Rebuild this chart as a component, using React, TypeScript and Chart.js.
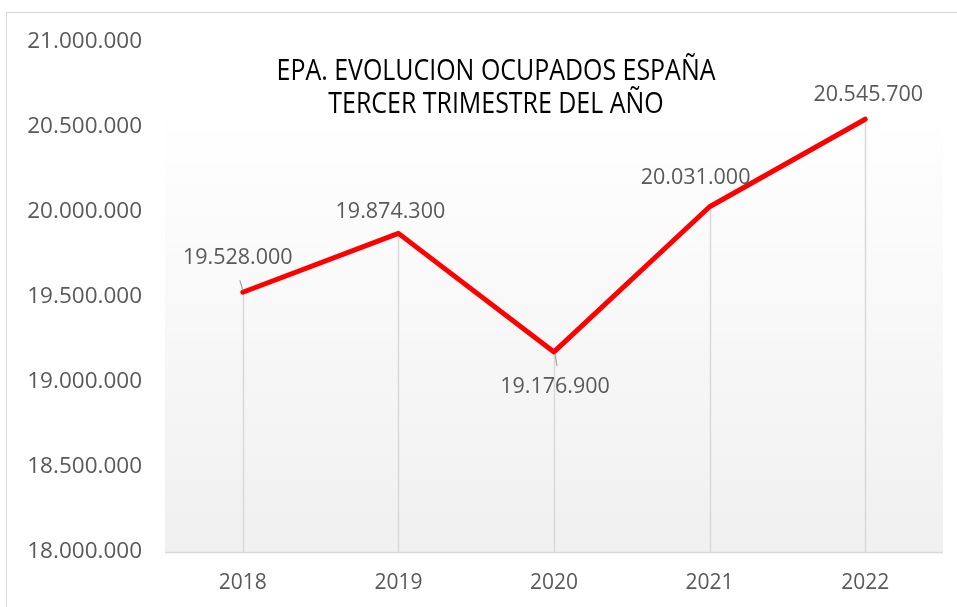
import React, { useEffect, useRef } from "react";
import { Chart, registerables } from "chart.js";

Chart.register(...registerables);

const years = ["2018", "2019", "2020", "2021", "2022"];
const ocupados = [19528000, 19874300, 19176900, 20031000, 20545700];
const titleLines = ["EPA. EVOLUCION OCUPADOS ESPAÑA", "TERCER TRIMESTRE DEL AÑO"];
// label offsets relative to point (style only)
const labelOffsets = [
  [-5, -34, true],
  [-8, -21, false],
  [1, 35, true],
  [-14, -29, false],
  [3, -24, false],
];

const fmt = (v: number) => String(Math.round(v)).replace(/\B(?=(\d{3})+(?!\d))/g, ".");
const FONT = "'Open Sans', sans-serif";

export default function App() {
  const ref = useRef<HTMLCanvasElement>(null);
  useEffect(() => {
    document.body.style.margin = "0";
    const deco = {
      id: "deco",
      beforeDraw(chart: any) {
        const { ctx, chartArea: a } = chart;
        ctx.save();
        ctx.fillStyle = "#ffffff";
        ctx.fillRect(0, 0, chart.width, chart.height);
        ctx.strokeStyle = "#d9d9d9";
        ctx.lineWidth = 1;
        ctx.strokeRect(6.5, 12.5, chart.width + 10, chart.height + 10);
        const g = ctx.createLinearGradient(0, a.top + 67, 0, a.bottom);
        g.addColorStop(0, "#ffffff");
        g.addColorStop(1, "#f0f0f0");
        ctx.fillStyle = g;
        ctx.fillRect(a.left, a.top + 67, a.right - a.left, a.bottom - a.top - 67);
        ctx.restore();
      },
      beforeDatasetsDraw(chart: any) {
        const { ctx, chartArea: a } = chart;
        const meta = chart.getDatasetMeta(0);
        ctx.save();
        ctx.strokeStyle = "#d9d9d9";
        ctx.lineWidth = 1.5;
        meta.data.forEach((p: any) => {
          ctx.beginPath();
          ctx.moveTo(Math.round(p.x) + 0.5, p.y);
          ctx.lineTo(Math.round(p.x) + 0.5, a.bottom);
          ctx.stroke();
        });
        ctx.beginPath();
        ctx.moveTo(a.left, a.bottom + 0.5);
        ctx.lineTo(a.right, a.bottom + 0.5);
        ctx.stroke();
        ctx.restore();
      },
      afterDatasetsDraw(chart: any) {
        const { ctx } = chart;
        const meta = chart.getDatasetMeta(0);
        ctx.save();
        ctx.fillStyle = "#595959";
        ctx.font = "21.5px 'Open Sans', sans-serif";
        ctx.textAlign = "center";
        ctx.textBaseline = "middle";
        meta.data.forEach((p: any, i: number) => {
          const [dx, dy, leader] = labelOffsets[i] as any;
          const lx = p.x + dx;
          const ly = p.y + dy;
          ctx.fillText(fmt(ocupados[i]), lx, ly);
          if (leader) {
            ctx.strokeStyle = "#a6a6a6";
            ctx.lineWidth = 1.2;
            ctx.beginPath();
            if (dy < 0) {
              ctx.moveTo(p.x - 3, p.y - 12);
              ctx.lineTo(p.x, p.y - 2);
            } else {
              ctx.moveTo(p.x + 1, p.y + 2);
              ctx.lineTo(p.x + 3, p.y + 14);
            }
            ctx.stroke();
          }
        });
        ctx.fillStyle = "#000000";
        ctx.font = "29px " + FONT;
        const cx = 496;
        const sx = 0.86;
        ctx.translate(cx, 0);
        ctx.scale(sx, 1);
        ctx.fillText(titleLines[0], 0, 72);
        ctx.fillText(titleLines[1], 0, 105);
        ctx.restore();
      },
    };
    const chart = new Chart(ref.current!, {
      type: "line",
      data: {
        labels: years,
        datasets: [
          {
            data: ocupados,
            borderColor: "#ff0000",
            borderWidth: 5,
            pointRadius: 0,
            tension: 0,
            borderCapStyle: "round",
            borderJoinStyle: "round",
          },
        ],
      },
      options: {
        animation: false,
        responsive: false,
        layout: { padding: { top: 42, right: 14, left: 0, bottom: 0 } },
        plugins: { legend: { display: false }, tooltip: { enabled: false }, title: { display: false } },
        scales: {
          x: {
            offset: true,
            grid: { display: false, drawTicks: false },
            border: { display: false },
            ticks: { color: "#595959", font: { family: FONT, size: 21 }, padding: 18 },
            afterFit: (s: any) => { s.height = 55; },
          },
          y: {
            min: 18000000,
            max: 21000000,
            grid: { display: false, drawTicks: false },
            border: { display: false },
            ticks: {
              stepSize: 500000,
              color: "#595959",
              font: { family: FONT, size: 22.5 },
              padding: 23,
              callback: (v: any) => fmt(Number(v)),
            },
            afterFit: (s: any) => { s.width = 165; },
          },
        },
      },
      plugins: [deco],
    } as any);
    return () => chart.destroy();
  }, []);
  return <canvas ref={ref} width={957} height={607} style={{ display: "block" }} />;
}
